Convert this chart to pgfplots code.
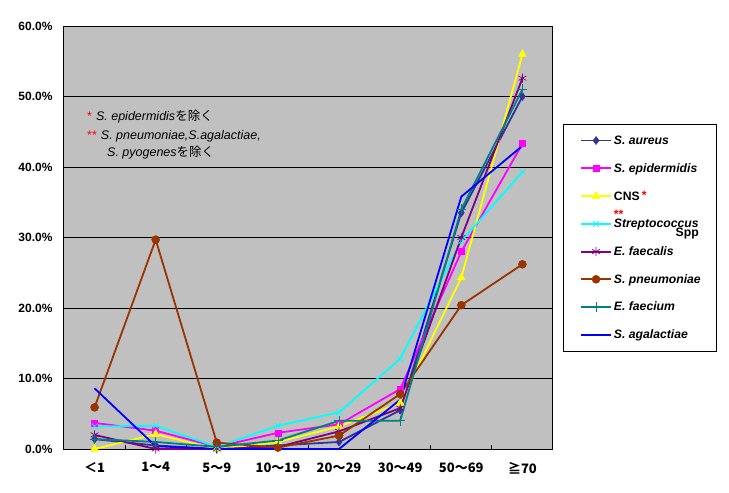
\documentclass[border=0pt]{standalone}
\usepackage{pgfplots}
\pgfplotsset{compat=1.18}
\usepackage{fontspec}
\setmainfont{Liberation Sans}
\newfontfamily\jp{Noto Sans CJK JP}
\definecolor{cAur}{HTML}{333399}
\definecolor{cEpi}{HTML}{FF00FF}
\definecolor{cCNS}{HTML}{FFFF00}
\definecolor{cStr}{HTML}{00FFFF}
\definecolor{cFcl}{HTML}{800080}
\definecolor{cPne}{HTML}{993300}
\definecolor{cFcm}{HTML}{008080}
\definecolor{cAga}{HTML}{0000FF}
\definecolor{bg}{HTML}{C0C0C0}
\newcommand\lgd[1]{\makebox[83pt][l]{\strut #1}}
\begin{document}
\begin{tikzpicture}[x=1pt,y=1pt]
\begin{axis}[
  name=ax, anchor=south west,
  width=489pt, height=423pt, scale only axis,
  xmin=-0.5, xmax=7.5, ymin=0, ymax=60,
  xtick={0,...,7},
  xticklabels={{\jp\bfseries ＜1},{\jp\bfseries 1～4},{\jp\bfseries 5～9},{\jp\bfseries 10～19},{\jp\bfseries 20～29},{\jp\bfseries 30～49},{\jp\bfseries 50～69},{\jp\bfseries ≧70}},
  xticklabel style={font=\fontsize{13}{14}\selectfont, yshift=-10pt},
  minor xtick={0.5,1.5,...,6.5},
  ytick={0,10,...,60},
  yticklabel={\pgfmathprintnumber[fixed,fixed zerofill,precision=1]{\tick}\%},
  yticklabel style={font=\bfseries\fontsize{12}{13}\selectfont, xshift=-8pt},
  /pgf/number format/assume math mode=true,
  major tick length=0pt, minor tick length=4pt,
  xtick pos=bottom, ytick pos=left,
  tick style={black, line width=0.8pt},
  ymajorgrids, grid style={black, line width=0.8pt},
  axis background/.style={fill=bg},
  axis line style={black, line width=1pt},
  clip=false,
  legend style={at={(rel axis cs:1.0204,0.7683)}, anchor=north west,
    draw=black, fill=white,
    font=\bfseries\itshape\fontsize{12.2}{13}\selectfont,
    row sep=13.1pt, inner xsep=17pt, inner ysep=9pt},
  legend cell align=left,
  legend image code/.code={\draw[mark repeat=2,mark phase=2,#1,line width=1.8pt] plot coordinates {(0pt,0pt) (15pt,0pt) (30pt,0pt)};},
]
\addplot[color=cAur, line width=1.8pt, mark=diamond*, mark size=4pt, mark options={fill=cAur, line width=0.5pt}]
  coordinates {(0,1.4) (1,0.5) (2,0) (3,0.5) (4,1.0) (5,5.5) (6,33.5) (7,50.0)};
\addlegendentry{\lgd{S. aureus}}
\addplot[color=cEpi, line width=1.8pt, mark=square*, mark size=3pt, mark options={fill=cEpi, line width=0.5pt}]
  coordinates {(0,3.7) (1,2.6) (2,0.3) (3,2.3) (4,3.5) (5,8.5) (6,28.0) (7,43.3)};
\addlegendentry{\lgd{S. epidermidis}}
\addplot[color=cCNS, line width=1.8pt, mark=triangle*, mark size=4.5pt, mark options={fill=cCNS, line width=0.5pt}]
  coordinates {(0,0) (1,2.1) (2,0) (3,1.0) (4,3.2) (5,6.5) (6,24.3) (7,56.0)};
\addlegendentry{\lgd{\upshape CNS\,\textcolor{red}{\raisebox{1pt}{*}}}}
\addplot[color=cStr, line width=1.8pt, mark=x, mark size=4pt, mark options={line width=0.7pt}]
  coordinates {(0,3.2) (1,3.3) (2,0.3) (3,3.3) (4,5.2) (5,12.8) (6,29.5) (7,39.3)};
\addlegendentry{\lgd{\rlap{\raisebox{9pt}[0pt][0pt]{\upshape\textcolor{red}{**}}}Streptococcus\llap{\raisebox{-9pt}[0pt][0pt]{\upshape Spp}}}}
\addplot[color=cFcl, line width=1.8pt, mark=asterisk, mark size=4.5pt, mark options={line width=0.7pt}]
  coordinates {(0,2.0) (1,0) (2,0) (3,0.3) (4,2.5) (5,5.8) (6,30.0) (7,52.6)};
\addlegendentry{\lgd{E. faecalis}}
\addplot[color=cPne, line width=1.8pt, mark=*, mark size=4pt, mark options={fill=cPne, line width=0.5pt}]
  coordinates {(0,5.9) (1,29.7) (2,0.9) (3,0.2) (4,1.9) (5,7.8) (6,20.4) (7,26.2)};
\addlegendentry{\lgd{S. pneumoniae}}
\addplot[color=cFcm, line width=1.8pt, mark=+, mark size=5pt, mark options={line width=0.8pt}]
  coordinates {(0,1.4) (1,1.0) (2,0.3) (3,1.2) (4,4.0) (5,4.0) (6,34.0) (7,51.0)};
\addlegendentry{\lgd{E. faecium}}
\addplot[color=cAga, line width=1.8pt]
  coordinates {(0,8.6) (1,0.4) (2,0) (3,0) (4,0) (5,7.0) (6,35.8) (7,43.0)};
\addlegendentry{\lgd{S. agalactiae}}
\end{axis}
\pgfresetboundingbox
\begin{scope}[shift={(ax.south west)}]
\path[use as bounding box] (-64,-44) rectangle (665,449);
\node[anchor=west, inner sep=0pt, font=\fontsize{12.5}{13}\selectfont] at (23,332) {\textcolor{red}{*}\hspace{4pt}\textit{S. epidermidis}{\jp を除く}};
\node[anchor=west, inner sep=0pt, font=\fontsize{12.5}{13}\selectfont] at (23,313) {\textcolor{red}{**}\hspace{4pt}\textit{S. pneumoniae,S.agalactiae,}};
\node[anchor=west, inner sep=0pt, font=\fontsize{12.5}{13}\selectfont] at (43,296) {\textit{S. pyogenes}{\jp を除く}};
\end{scope}
\end{tikzpicture}
\end{document}
